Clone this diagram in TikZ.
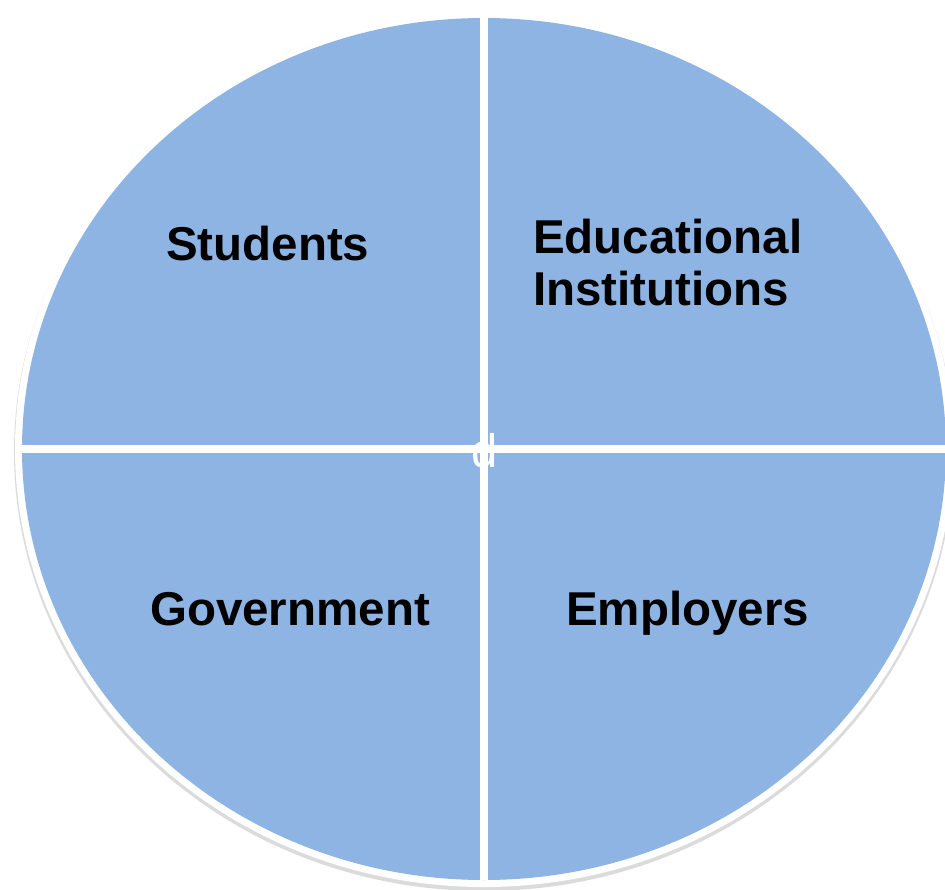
\documentclass[tikz,border=0pt]{standalone}
\usepackage{fontspec}
\setmainfont{Liberation Sans}
\usetikzlibrary{shapes.geometric}
\definecolor{quarterblue}{HTML}{8EB4E3}
\tikzset{ring/.style={ellipse, inner sep=0pt, outer sep=0pt},
  divider/.style={white, line width=8pt},
  sector text/.style={anchor=base west, inner sep=0pt, align=left,
    font=\fontsize{47.5}{52}\selectfont\bfseries}}

\begin{document}
\begin{tikzpicture}[x=1pt,y=-1pt]
\useasboundingbox (0,0) rectangle (945,889);
\node [ring, fill=black!14, minimum width=940pt, minimum height=878pt] (shadow) at (484,452) {};
\node [ring, fill=white, minimum width=938pt, minimum height=876pt] (rim) at (484,449) {};
\node [ring, fill=quarterblue, minimum width=924pt, minimum height=862pt] (pie) at (484,449) {};
\draw [divider] (pie.north) -- (pie.south);
\draw [divider] (pie.west) -- (pie.east);
\node [anchor=base, inner sep=0pt, text=white, font=\fontsize{47}{52}\selectfont] (mark) at (485,467) {d};

\node [sector text] (students) at (166,260) {Students};
\node [sector text] (schools) at (533,305) {Educational\\Institutions};
\node [sector text] (government) at (150,625) {Government};
\node [sector text] (employers) at (566,625) {Employers};
\end{tikzpicture}
\end{document}
